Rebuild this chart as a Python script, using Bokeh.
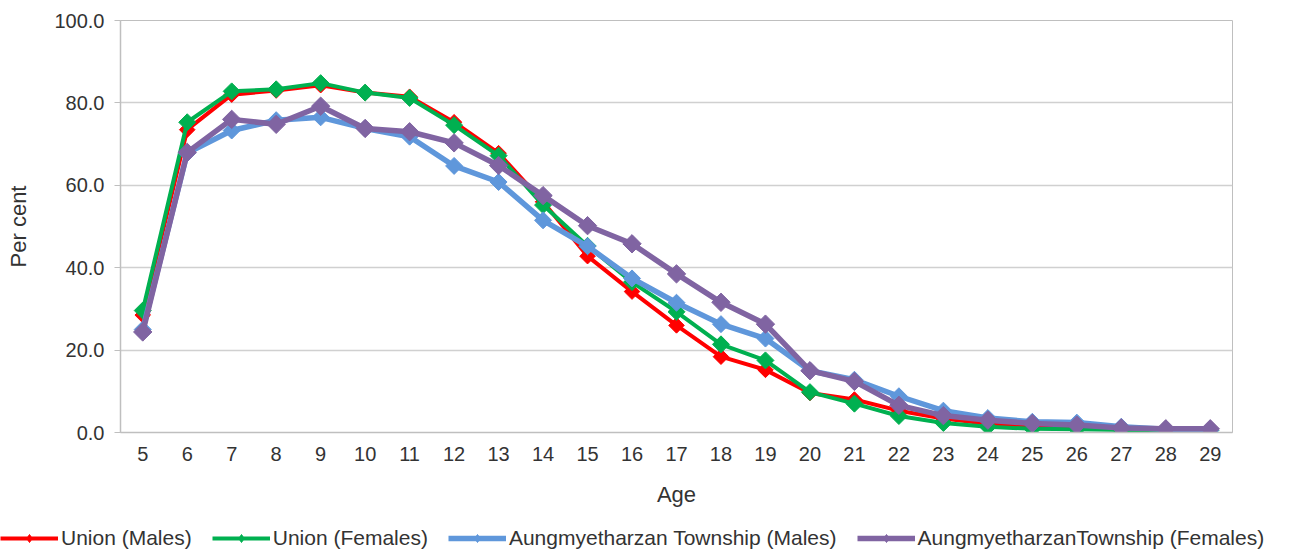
import math
from bokeh.plotting import figure
from bokeh.models import (Range1d, FixedTicker, NumeralTickFormatter, Legend, LegendItem)
from bokeh.embed import file_html
from bokeh.resources import INLINE

ages = list(range(5, 30))
union_males = [28.5, 73.5, 82.0, 83.0, 84.3, 82.5, 81.5, 75.3, 67.8, 56.0, 42.8, 34.2, 26.0, 18.4,
               15.2, 9.6, 8.0, 5.3, 3.4, 2.1, 1.5, 1.1, 0.8, 0.8, 0.9]
union_females = [29.6, 75.3, 82.8, 83.3, 84.8, 82.5, 81.2, 74.6, 67.2, 55.2, 45.3, 36.5, 29.3, 21.4,
                 17.5, 9.8, 7.0, 4.0, 2.3, 1.4, 0.9, 0.8, 0.6, 0.6, 0.5]
aung_males = [25.0, 67.8, 73.3, 75.8, 76.5, 73.8, 71.8, 64.7, 60.8, 51.5, 45.2, 37.4, 31.5, 26.3,
              22.8, 15.0, 12.8, 8.8, 5.3, 3.5, 2.6, 2.4, 1.4, 0.8, 0.5]
aung_females = [24.4, 68.0, 76.0, 74.8, 79.2, 73.8, 73.0, 70.3, 64.8, 57.5, 50.2, 45.8, 38.5, 31.6,
                26.3, 15.0, 12.4, 6.6, 4.1, 3.0, 2.2, 1.8, 1.1, 0.9, 0.9]

series_labels = ["Union (Males)", "Union (Females)", "Aungmyetharzan Township (Males)",
                 "AungmyetharzanTownship (Females)"]
series_values = [union_males, union_females, aung_males, aung_females]
colors = ["#FF0000", "#00B050", "#5F97DB", "#8064A2"]
y_ticks = [0, 20, 40, 60, 80, 100]

FONT = "Liberation Sans"
TXT = "#333333"

p = figure(width=1280, height=512, output_backend="svg", toolbar_location=None,
           frame_width=1112, frame_height=412,
           min_border_left=120, min_border_top=20, min_border_right=48, min_border_bottom=80,
           x_range=Range1d(4.5, 29.5), y_range=Range1d(0, 100))

p.outline_line_color = "#BFBFBF"
p.xgrid.visible = False
p.ygrid.grid_line_color = "#D0D0D0"
p.ygrid.grid_line_width = 1.5

p.xaxis.ticker = FixedTicker(ticks=ages)
p.yaxis.ticker = FixedTicker(ticks=y_ticks)
p.yaxis.formatter = NumeralTickFormatter(format="0.0")
for ax in (p.xaxis, p.yaxis):
    ax.axis_line_color = "#BFBFBF"
    ax.axis_line_width = 1.5
    ax.major_tick_line_color = "#BFBFBF"
    ax.minor_tick_line_color = None
    ax.major_label_text_font = FONT
    ax.major_label_text_font_size = "20px"
    ax.major_label_text_color = TXT
    ax.axis_label_text_font = FONT
    ax.axis_label_text_font_size = "22px"
    ax.axis_label_text_font_style = "normal"
    ax.axis_label_text_color = TXT
p.yaxis.major_tick_out = 6
p.yaxis.major_tick_in = 0
p.yaxis.major_label_standoff = 10
p.yaxis.axis_label = "Per cent"
p.yaxis.axis_label_standoff = 20
p.xaxis.major_tick_out = 0
p.xaxis.major_tick_in = 0
p.xaxis.major_label_standoff = 14
p.xaxis.axis_label = "Age"
p.xaxis.axis_label_standoff = 18

sizes = [11, 12, 12, 13]
widths = [4, 4, 5.5, 5.5]
for vals, col, sz, w in zip(series_values, colors, sizes, widths):
    p.line(ages, vals, line_color=col, line_width=w)
    p.scatter(ages, vals, marker="square", angle=math.pi / 4, size=sz,
              fill_color=col, line_color=col)

# legend strip below the chart (its series lie outside its view, only the legend shows)
lf = figure(width=1280, height=41, output_backend="svg", toolbar_location=None,
            x_axis_location=None, y_axis_location=None,
            min_border_left=0, min_border_right=0, min_border_top=0, min_border_bottom=0,
            x_range=Range1d(0, 1), y_range=Range1d(0, 1))
lf.outline_line_color = None
lf.grid.visible = False
items = []
for lab, vals, col, w in zip(series_labels, series_values, colors, widths):
    ln = lf.line(ages, vals, line_color=col, line_width=w)
    sc = lf.scatter(ages, vals, marker="diamond", size=12,
                    fill_color=col, line_color=col)
    items.append(LegendItem(label=lab, renderers=[ln, sc]))
lg = Legend(items=items, location=(0, 3), orientation="horizontal",
            background_fill_alpha=0, border_line_alpha=0, padding=0, margin=0, spacing=20,
            glyph_width=58, glyph_height=20, label_standoff=3,
            label_text_font=FONT, label_text_font_size="21px", label_text_color=TXT)
lf.add_layout(lg, "center")

open("out.html", "w").write(file_html([p, lf], INLINE))
